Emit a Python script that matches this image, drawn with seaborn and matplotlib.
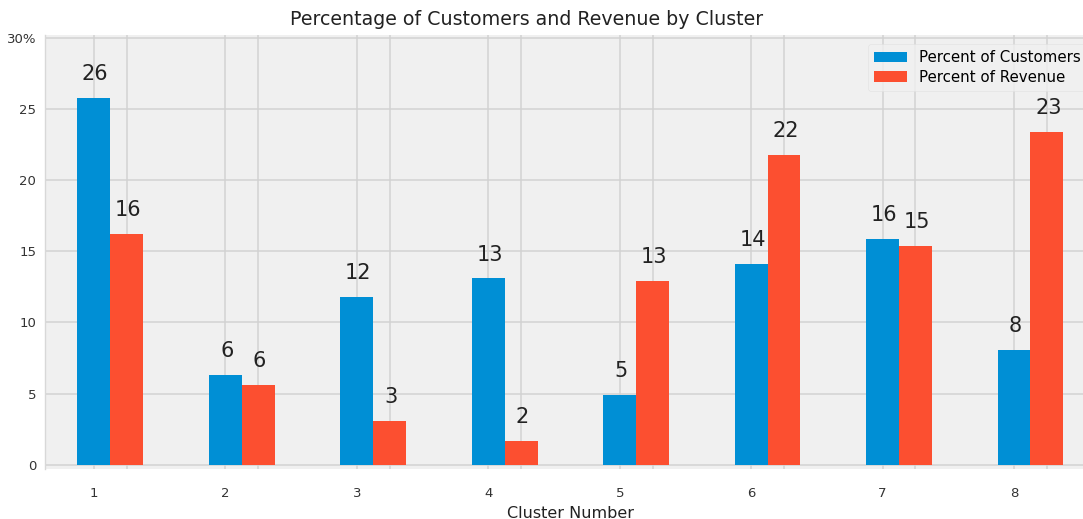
import pandas as pd
import seaborn as sns
from matplotlib import pyplot as plt

plt.style.use('fivethirtyeight')

clusters = [1, 2, 3, 4, 5, 6, 7, 8]
pct_customers = [25.8, 6.3, 11.8, 13.1, 4.9, 14.1, 15.9, 8.1]
pct_revenue = [16.2, 5.6, 3.1, 1.7, 12.9, 21.8, 15.4, 23.4]
series_names = ['Percent of Customers', 'Percent of Revenue']
ytick_labels = ['0', '5', '10', '15', '20', '25', '30%']

df = pd.DataFrame({'Cluster Number': clusters,
                   series_names[0]: pct_customers,
                   series_names[1]: pct_revenue})
df_melted = df.melt(id_vars=['Cluster Number'], value_vars=series_names,
                    var_name='series', value_name='percent')

fig = plt.figure(figsize=(10.83, 5.19), dpi=100, facecolor='white')
ax = fig.add_axes([0.0412, 0.0963, 0.971, 0.836])
ax.set_facecolor('#f0f0f0')

sns.barplot(data=df_melted, x='Cluster Number', y='percent', hue='series',
            palette=['#008fd5', '#fc4f30'], saturation=1, width=0.5,
            errorbar=None, ax=ax, linewidth=0)

# value labels above bars
for cont in ax.containers:
    for p in cont:
        h = p.get_height()
        ax.annotate(f"{round(h)}", (p.get_x() + p.get_width() / 2, h),
                    xytext=(1, 10), textcoords='offset points',
                    ha='center', va='bottom', fontsize=15, color='#222222')

n = len(clusters)
ax.set_xticks([i - 0.125 for i in range(n)])
ax.set_xticklabels([str(c) for c in clusters])
ax.set_xticks([i + 0.125 for i in range(n)], minor=True)
ax.set_xlim(-0.5, n - 0.5)
ax.set_ylim(-0.3, 30.2)
ax.set_yticks([0, 5, 10, 15, 20, 25, 30])
ax.set_yticklabels(ytick_labels)

ax.grid(True, which='both', axis='x', color='#d2d2d2', linewidth=1.1)
ax.grid(True, which='major', axis='y', color='#d2d2d2', linewidth=1.1)
ax.set_axisbelow(True)
ax.tick_params(axis='x', which='both', length=0, pad=13, labelsize=9.5, colors='#333333')
ax.tick_params(axis='y', length=0, pad=6, labelsize=9.5, colors='#333333')
for s in ax.spines.values():
    s.set_visible(False)
ax.spines['left'].set_visible(True)
ax.spines['left'].set_color('#d8d8d8')
ax.spines['left'].set_linewidth(1)

ax.set_title('Percentage of Customers and Revenue by Cluster', fontsize=13.7,
             pad=7, color='#222222', x=0.4586)
ax.set_xlabel('Cluster Number', fontsize=11.5, color='#222222', labelpad=4)
ax.set_ylabel('')

leg = ax.legend(title=None, loc='upper right', fontsize=10.8, frameon=True,
                facecolor='#f0f0f0', edgecolor='#e0e0e0', handlelength=2.2,
                borderaxespad=0.6, labelspacing=0.3)

plt.savefig('out.png', dpi=100, facecolor='white')
plt.close()
